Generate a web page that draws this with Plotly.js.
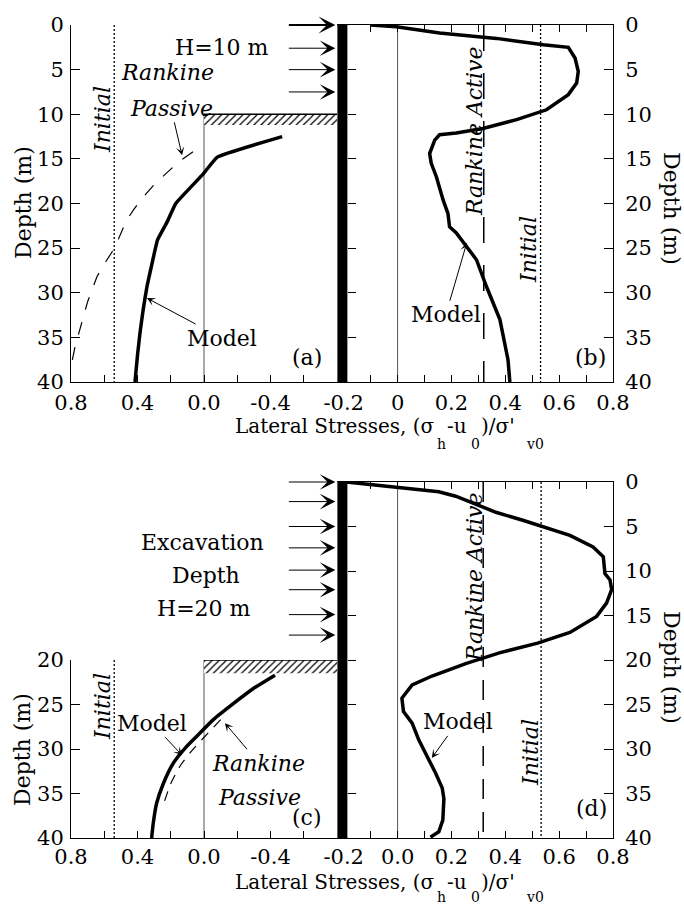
<!DOCTYPE html>
<html><head><meta charset="utf-8">
<script src="https://cdn.plot.ly/plotly-3.0.1.min.js"></script>
<style>html,body{margin:0;padding:0;background:#fff;}#chart{width:684px;height:907px;}</style>
</head><body><div id="chart"></div>
<script>
// ---------- data ----------
const depthTicksTop = [0,5,10,15,20,25,30,35,40];
const depthTicksBottom = [20,25,30,35,40];
const wallTicks = [5,10,15,20,25,30,35];
const passiveTickVals = [0.8,0.6,0.4,0.2,0,-0.2,-0.4,-0.6];
const passiveTickText = ['0.8','','0.4','','0.0','','-0.4',''];
const activeTickVals = [-0.2,-0.1,0,0.1,0.2,0.3,0.4,0.5,0.6,0.7,0.8];
const activeTickTextB = ['-0.2','','0','','0.2','','0.4','','0.6','','0.8'];
const activeTickTextD = ['-0.2','','0.0','','0.2','','0.4','','0.6','','0.8'];

// panel (a): H = 10 m, passive side
const modelA_x     = [-0.47,-0.08,0.01,0.17,0.22,0.28,0.31,0.343,0.365,0.385,0.40,0.415];
const modelA_depth = [12.5,14.8,16.8,20.0,22.0,24.1,26.5,29.3,31.8,34.5,37.0,40];
const rankineA_x     = [0.066,0.15,0.226,0.30,0.367,0.42,0.47,0.535,0.59,0.644,0.70,0.746,0.775,0.795];
const rankineA_depth = [14.2,15.3,16.6,17.9,19.3,20.6,22.0,24.9,26.5,28.2,31.0,34.2,36.0,37.8];
// panel (b): H = 10 m, active side
const modelB_x = [-0.10,-0.005,0.156,0.367,0.541,0.634,0.659,0.671,0.665,0.634,0.553,0.442,0.317,0.218,0.156,0.138,0.119,0.125,0.144,0.169,0.187,0.193,0.218,0.256,0.293,0.330,0.355,0.380,0.410,0.417];
const modelB_depth = [0,0.2,0.9,1.5,2.2,2.5,3.7,5.2,6.5,7.8,9.5,10.6,11.6,12.1,12.3,12.9,14.4,15.5,17.0,19.6,21.1,22.6,23.3,24.8,26.3,29.3,31.1,33.0,37.5,40];
// panel (c): H = 20 m, passive side
const modelC_x     = [-0.427,-0.297,-0.176,-0.056,0.024,0.104,0.185,0.245,0.285,0.305,0.315];
const modelC_depth = [21.7,23.2,24.9,26.7,28.2,29.7,31.6,33.9,36.1,38.3,40];
const rankineC_x     = [-0.10,-0.02,0.06,0.14,0.20,0.24];
const rankineC_depth = [26.7,28.3,29.9,31.8,33.9,36.0];
// panel (d): H = 20 m, active side
const modelD_x = [-0.19,0.153,0.216,0.29,0.365,0.465,0.552,0.64,0.726,0.764,0.77,0.789,0.795,0.776,0.739,0.64,0.52,0.378,0.253,0.128,0.054,0.016,0.022,0.054,0.079,0.116,0.141,0.166,0.172,0.168,0.153,0.122];
const modelD_depth = [0,1.1,1.6,2.5,3.4,4.3,5.1,6.0,7.3,8.4,10.3,11.0,12.1,13.6,15.1,16.9,18.1,19.2,20.4,21.8,22.8,24.3,25.8,27.1,29.0,31.2,32.7,34.4,35.6,38.0,39.3,39.9];

const initialX = [0.54, 0.531, 0.54, 0.533];      // a, b, c, d
const rankineActiveX = [0.32, 0.318];             // b, d
const excavationDepth = [10, 20];                 // H
const hatchBottom = [11.2, 21.5];
const wallX = -0.205;
const wallSideX = -0.79;                          // wall face on passive axes
const strutDepthsTop = [0, 2.6, 5.0, 7.5];
const strutDepthsBottom = [0, 2.2, 5.0, 7.4, 9.9, 12.1, 14.9, 17.2];

// ---------- layout helpers ----------
const W = 684, H = 907;
const fx = p => p / W;
const fy = p => 1 - p / H;
const FONT = 'DejaVu Serif';
const tickFont = {family: FONT, size: 21, color: '#000'};

function axBase(extra){
  return Object.assign({showgrid:false, zeroline:false, showline:true, linecolor:'#000', linewidth:1,
    ticks:'inside', tickcolor:'#000', tickwidth:1, tickfont:tickFont, fixedrange:true}, extra);
}

const traces = [];
function line(xa, ya, x, y, opts){
  traces.push(Object.assign({type:'scatter', mode:'lines', xaxis:xa, yaxis:ya, x:x, y:y,
    hoverinfo:'skip', showlegend:false}, opts));
}
const black = '#000';

// walls (on overlay axes that also carry the wall-side ticks)
line('x2','y5',[wallX,wallX],[0,40],{line:{color:black,width:10}});
line('x4','y6',[wallX,wallX],[0,40],{line:{color:black,width:10}});

// panel (a)
line('x','y',[0,0],[excavationDepth[0],40],{line:{color:'#555',width:1}});
line('x','y',[initialX[0],initialX[0]],[0,40],{line:{color:black,width:1.3,dash:'2px,2px'}});
line('x','y',[0,-0.8,-0.8,0,0],[excavationDepth[0],excavationDepth[0],hatchBottom[0],hatchBottom[0],excavationDepth[0]],
  {fill:'toself', fillcolor:'#fff', line:{width:0}, fillpattern:{shape:'/', fgcolor:black, bgcolor:'#fff', size:5, solidity:0.25}});
line('x','y',[0,-0.8],[excavationDepth[0],excavationDepth[0]],{line:{color:black,width:1.5}});
line('x','y',rankineA_x,rankineA_depth,{line:{color:black,width:1.2,dash:'13px,13px'}});
line('x','y',modelA_x,modelA_depth,{line:{color:black,width:3.5,shape:'spline',smoothing:0.3}});

// panel (b)
line('x2','y2',[0,0],[0,40],{line:{color:'#555',width:1}});
line('x2','y2',[initialX[1],initialX[1]],[0,40],{line:{color:black,width:1.3,dash:'2px,2px'}});
line('x2','y2',[rankineActiveX[0],rankineActiveX[0]],[0,40],{line:{color:black,width:1.5,dash:'26px,22px'}});
line('x2','y2',modelB_x,modelB_depth,{line:{color:black,width:3.5}});

// panel (c)
line('x3','y3',[0,0],[excavationDepth[1],40],{line:{color:'#555',width:1}});
line('x3','y3',[initialX[2],initialX[2]],[excavationDepth[1],40],{line:{color:black,width:1.3,dash:'2px,2px'}});
line('x3','y3',[0,-0.8,-0.8,0,0],[excavationDepth[1],excavationDepth[1],hatchBottom[1],hatchBottom[1],excavationDepth[1]],
  {fill:'toself', fillcolor:'#fff', line:{width:0}, fillpattern:{shape:'/', fgcolor:black, bgcolor:'#fff', size:5, solidity:0.25}});
line('x3','y3',[0,-0.8],[excavationDepth[1],excavationDepth[1]],{line:{color:black,width:1.5}});
line('x3','y3',rankineC_x,rankineC_depth,{line:{color:black,width:1.2,dash:'10px,8px',shape:'spline',smoothing:0.6}});
line('x3','y3',modelC_x,modelC_depth,{line:{color:black,width:3.5,shape:'spline',smoothing:0.5}});

// panel (d)
line('x4','y4',[0,0],[0,40],{line:{color:'#555',width:1}});
line('x4','y4',[initialX[3],initialX[3]],[0,40],{line:{color:black,width:1.3,dash:'2px,2px'}});
line('x4','y4',[rankineActiveX[1],rankineActiveX[1]],[0,40],{line:{color:black,width:1.5,dash:'20px,13px'}});
line('x4','y4',modelD_x,modelD_depth,{line:{color:black,width:3.5}});

// ---------- annotations ----------
const ann = [];
function txt(px, py, text, opts){
  ann.push(Object.assign({xref:'paper', yref:'paper', x:fx(px), y:fy(py), text:text, showarrow:false,
    xanchor:'center', yanchor:'middle', borderpad:0, font:{family:FONT, size:22, color:black}}, opts||{}));
}
function itxt(px, py, text, opts){
  txt(px, py, text, Object.assign({font:{family:FONT, size:22, color:black, style:'italic'}}, opts||{}));
}
function pointer(xref, yref, x, y, dx, dy, text, italic){
  ann.push({xref:xref, yref:yref, x:x, y:y, ax:dx, ay:dy, text:text, showarrow:true,
    arrowhead:3, arrowsize:1.4, arrowwidth:1, arrowcolor:black, standoff:0,
    font:{family:FONT, size:22, color:black, style: italic ? 'italic' : 'normal'}});
}
// struts / arrows against the wall
strutDepthsTop.forEach((d,i) => ann.push({xref:'x', yref:'y', x:wallSideX, y:d, ax:-48, ay:0, text:'',
  showarrow:true, arrowhead:3, arrowsize:i===0?1.4:2.6, arrowwidth:i===0?2:1, arrowcolor:black}));
strutDepthsBottom.forEach((d,i) => ann.push({xref:'x3', yref:'y4', x:wallSideX, y:d, ax:-48, ay:0, text:'',
  showarrow:true, arrowhead:3, arrowsize:2.6, arrowwidth:1, arrowcolor:black}));

// panel (a)
txt(222, 48, 'H=10 m');
itxt(167, 73, 'Rankine');
pointer('x','y',0.132,14.6,-11,-47,'Passive',true);
itxt(102, 120, 'Initial', {textangle:-90});
pointer('x','y',0.343,30.6,75,40,'Model',false);
txt(307, 358, '(a)');
txt(23, 203, 'Depth (m)', {textangle:-90});
// panel (b)
itxt(474, 132, 'Rankine Active', {textangle:-90});
itxt(528, 250, 'Initial', {textangle:-90});
pointer('x2','y2',0.257,24.4,-21,72,'Model',false);
txt(590, 358, '(b)');
txt(672, 208, 'Depth (m)', {textangle:90});
// panel (c)
txt(202, 542, 'Excavation');
txt(206, 575, 'Depth');
txt(204, 608, 'H=20 m');
itxt(102, 707, 'Initial', {textangle:-90});
pointer('x3','y3',0.132,30.7,-30,-32,'Model',false);
pointer('x3','y3',-0.126,27.1,34,40,'Rankine',true);
itxt(259, 797, 'Passive');
txt(307, 817, '(c)');
txt(22, 750, 'Depth (m)', {textangle:-90});
// panel (d)
itxt(474, 578, 'Rankine Active', {textangle:-90});
itxt(530, 753, 'Initial', {textangle:-90});
pointer('x4','y4',0.127,31.0,26,-36,'Model',false);
txt(591, 808, '(d)');
txt(672, 667, 'Depth (m)', {textangle:90});

// x-axis titles with deep subscripts
function xTitle(baseY, subY){
  const m = {font:{family:FONT, size:20, color:black}};
  const s = {font:{family:FONT, size:14, color:black}};
  txt(436, baseY, 'Lateral Stresses, (σ', Object.assign({xanchor:'right'}, m));
  txt(436, subY, 'h', Object.assign({xanchor:'left'}, s));
  txt(446, baseY, '-u', Object.assign({xanchor:'left'}, m));
  txt(470, subY, '0', Object.assign({xanchor:'left'}, s));
  txt(480, baseY, ')/σ\'', Object.assign({xanchor:'left'}, m));
  txt(525, subY, 'v0', Object.assign({xanchor:'left'}, s));
}
xTitle(426, 444);
xTitle(882, 897);

const layout = {
  width: W, height: H, margin:{l:0,r:0,t:0,b:0},
  paper_bgcolor:'#fff', plot_bgcolor:'rgba(0,0,0,0)', showlegend:false,
  xaxis: axBase({domain:[fx(71),fx(337)], range:[0.8,-0.8], anchor:'y', tickvals:passiveTickVals, ticktext:passiveTickText, ticklen:7, ticklabelstandoff:2}),
  yaxis: axBase({domain:[fy(382),fy(25)], range:[40,0], anchor:'x', tickvals:depthTicksTop, ticklen:9, ticklabelstandoff:2}),
  xaxis2: axBase({domain:[fx(337),fx(613)], range:[-0.225,0.8], anchor:'y2', mirror:'ticks', tickvals:activeTickVals, ticktext:activeTickTextB, ticklen:7, ticklabelstandoff:2}),
  yaxis2: axBase({domain:[fy(382),fy(25)], range:[40,0], anchor:'x2', side:'right', tickvals:depthTicksTop, ticklen:9, ticklabelstandoff:7}),
  xaxis3: axBase({domain:[fx(71),fx(337)], range:[0.8,-0.8], anchor:'y3', tickvals:passiveTickVals, ticktext:passiveTickText, ticklen:7, ticklabelstandoff:0}),
  yaxis3: axBase({domain:[fy(838),fy(660)], range:[40,20], anchor:'x3', tickvals:depthTicksBottom, ticklen:9, ticklabelstandoff:2}),
  xaxis4: axBase({domain:[fx(337),fx(613)], range:[-0.225,0.8], anchor:'y4', mirror:'ticks', tickvals:activeTickVals, ticktext:activeTickTextD, ticklen:7, ticklabelstandoff:0}),
  yaxis4: axBase({domain:[fy(838),fy(482)], range:[40,0], anchor:'x4', side:'right', tickvals:depthTicksTop, ticklen:9, ticklabelstandoff:7}),
  yaxis5: axBase({overlaying:'y2', anchor:'free', position:fx(347), side:'left', range:[40,0], showline:false, showticklabels:false, tickvals:wallTicks, ticklen:8}),
  yaxis6: axBase({overlaying:'y4', anchor:'free', position:fx(347), side:'left', range:[40,0], showline:false, showticklabels:false, tickvals:wallTicks, ticklen:8}),
  annotations: ann
};

Plotly.newPlot('chart', traces, layout, {displayModeBar:false, staticPlot:true});
</script></body></html>
